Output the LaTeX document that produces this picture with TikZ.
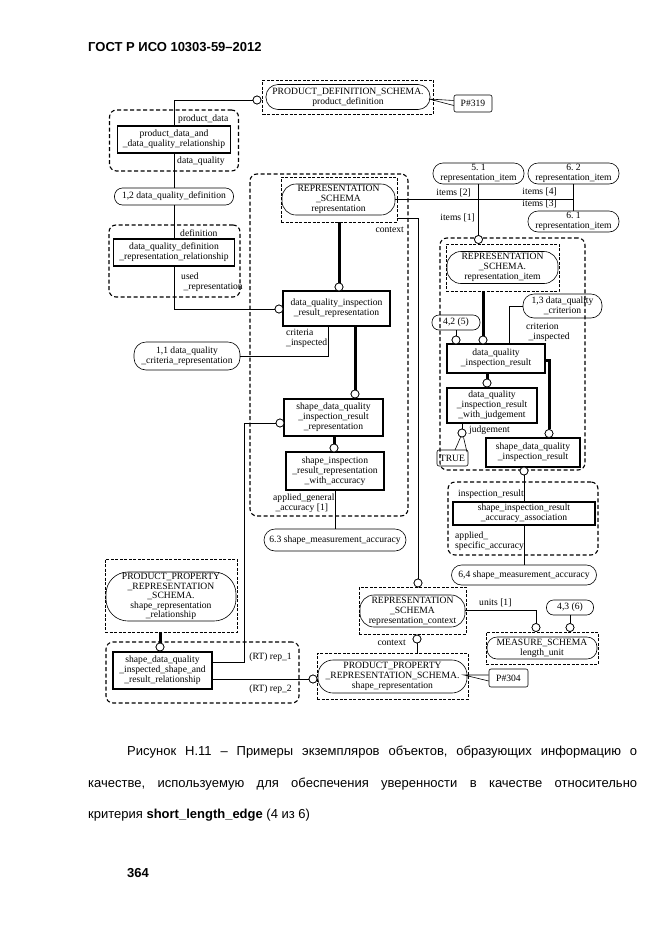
\documentclass[tikz,border=0pt]{standalone}
\usepackage{fontspec}
\setmainfont{Liberation Serif}
\newfontfamily\capfont{Liberation Sans}
\newcommand\dgfont{\fontsize{9.6}{10}\selectfont}
\frenchspacing
\begin{document}
\begin{tikzpicture}[x=1pt,y=-1pt,
  every node/.style={font=\dgfont, inner sep=0pt, align=center},
  dgrp/.style={draw, dash pattern=on 4pt off 2.5pt, line width=1.1pt, rounded corners=7pt},
  dsch/.style={draw, dash pattern=on 3pt off 1.5pt, line width=0.9pt},
  tref/.style={draw, line width=0.6pt, rounded corners=#1},
  tref/.default=8pt,
  ent/.style={draw, line width=1.1pt},
  call/.style={draw, line width=0.6pt, rounded corners=2pt},
  oc/.style={circle, draw, fill=white, line width=0.7pt, minimum size=8pt},
  thk/.style={line width=3pt},
  conn/.style={line width=0.8pt},
  lab/.style={font=\dgfont, align=left},
  capt/.style={font=\capfont\fontsize{13}{15}\selectfont, anchor=base west}
]
\fill[white] (0,0) rectangle (661,935);
\useasboundingbox (0,0) rectangle (661,935);

% header
\node[font=\capfont\bfseries\fontsize{13}{15}\selectfont, anchor=base west] (hdr) at (88,51) {ГОСТ Р ИСО 10303-59–2012};

% ---------- top: product definition ----------
\node[dsch, minimum width=171, minimum height=34] (pdsG) at (348,97) {};
\node[tref=12pt, minimum width=164, minimum height=25] (pds) at (348,97) {PRODUCT\_DEFINITION\_SCHEMA.\\product\_definition};
\node[call, minimum width=38, minimum height=17] (p319) at (473,103.5) {P\#319};
\coordinate (p319t) at (429,99);
\draw[line width=0.6pt] ([yshift=3pt]p319.west) -- (p319t) -- ([yshift=-2pt]p319.west);

% group 1
\node[dgrp, minimum width=129, minimum height=61] (g1) at (174,140.5) {};
\node[ent, minimum width=113, minimum height=27] (pdqr) at (174,139.5) {product\_data\_and\\\_data\_quality\_relationship};
\node[lab, anchor=west] (l1) at (178,119) {product\_data};
\node[lab, anchor=west] (l2) at (177,161) {data\_quality};

\node[tref=8pt, minimum width=119, minimum height=17] (dqd) at (174,196.5) {1,2 data\_quality\_definition};

% group 2
\node[dgrp, minimum width=131, minimum height=72] (g2) at (174.5,261) {};
\node[ent, minimum width=121, minimum height=27] (dqdrr) at (174,252.5) {data\_quality\_definition\\\_representation\_relationship};
\node[lab, anchor=west] (l3) at (180,233) {definition};
\node[lab, anchor=west] (l4) at (181,282) {used\\\ \_representation};

% ---------- representation group ----------
\node[dgrp, minimum width=158, minimum height=342] (g3) at (329,345) {};
\node[dsch, minimum width=116, minimum height=45] (repG) at (339,199.5) {};
\node[tref=14pt, minimum width=113, minimum height=31] (rep) at (338.5,199.5) {REPRESENTATION\\\_SCHEMA\\representation};
\node[lab, anchor=east] (l5) at (404,230) {context};

\node[ent, minimum width=107, minimum height=35] (dqirr) at (336.5,308.5) {data\_quality\_inspection\\\_result\_representation};
\node[lab, anchor=west] (l6) at (286,338) {criteria\\\_inspected};
\node[tref=12pt, minimum width=106, minimum height=28] (dqcr) at (187,356) {1,1 data\_quality\\\_criteria\_representation};

\node[ent, minimum width=99, minimum height=37] (sdqirr) at (333.5,417.5) {shape\_data\_quality\\\_inspection\_result\\\_representation};
\node[ent, minimum width=98, minimum height=38] (sirrwa) at (335,471) {shape\_inspection\\\_result\_representation\\\_with\_accuracy};
\node[lab, anchor=west] (l7) at (273,503.5) {applied\_general\\\ \_accuracy [1]};
\node[tref=11pt, minimum width=142, minimum height=22] (sma63) at (335,540) {6.3 shape\_measurement\_accuracy};

% ---------- top right items ----------
\node[tref=10pt, minimum width=91, minimum height=21] (n51) at (478.5,173.5) {5. 1\\representation\_item};
\node[tref=10pt, minimum width=91, minimum height=21] (n62) at (573.5,173.5) {6. 2\\representation\_item};
\node[tref=10pt, minimum width=91, minimum height=21] (n61) at (573.5,221.5) {6. 1\\representation\_item};
\node[lab, anchor=east] (l8) at (471,193) {items [2]};
\node[lab, anchor=east] (l9) at (557,192) {items [4]};
\node[lab, anchor=east] (l10) at (557,204) {items [3]};
\node[lab, anchor=east] (l11) at (475,218) {items [1]};

% ---------- right group ----------
\node[dgrp, minimum width=145, minimum height=232] (g4) at (512.5,354) {};
\node[dsch, minimum width=113, minimum height=47] (riG) at (502.5,267.5) {};
\node[tref=14pt, minimum width=111, minimum height=32] (ri) at (502.5,267.5) {REPRESENTATION\\\_SCHEMA.\\representation\_item};
\node[tref=7pt, minimum width=48, minimum height=15] (n42) at (456,322.5) {4,2 (5)};
\node[tref=11pt, minimum width=79, minimum height=24] (n13) at (562.5,306) {1,3 data\_quality\\\_criterion};
\node[lab, anchor=west] (l12) at (526,332) {criterion\\\ \_inspected};
\node[ent, minimum width=98, minimum height=29] (dqir) at (496,358.5) {data\_quality\\\_inspection\_result};
\node[ent, minimum width=90, minimum height=35] (dqirwj) at (492,405.5) {data\_quality\\\_inspection\_result\\\_with\_judgement};
\node[ent, minimum width=94, minimum height=29] (sdqir) at (533,452.5) {shape\_data\_quality\\\_inspection\_result};
\node[lab, anchor=west] (l13) at (469,430) {judgement};
\node[call, minimum width=31, minimum height=16] (tru) at (452.5,458) {TRUE};

% group 5
\node[dgrp, minimum width=150, minimum height=73] (g5) at (523,518.5) {};
\node[ent, minimum width=142, minimum height=23] (sirraa) at (524,513.5) {shape\_inspection\_result\\\_accuracy\_association};
\node[lab, anchor=west] (l14) at (458,494) {inspection\_result};
\node[lab, anchor=west] (l15) at (455,541) {applied\_\\specific\_accuracy};
\node[tref=10pt, minimum width=145, minimum height=20] (n64) at (524,575) {6,4 shape\_measurement\_accuracy};

% ---------- representation context ----------
\node[dsch, minimum width=107, minimum height=47] (rcG) at (412.5,610.5) {};
\node[tref=14pt, minimum width=105, minimum height=32] (rc) at (412.5,611) {REPRESENTATION\\\_SCHEMA\\representation\_context};
\node[lab, anchor=west] (l16) at (479,603) {units [1]};
\node[tref=7pt, minimum width=47, minimum height=15] (n43) at (570,607.5) {4,3 (6)};
\node[dsch, minimum width=112, minimum height=32] (msG) at (542,648) {};
\node[tref=10pt, minimum width=110, minimum height=22] (ms) at (542,648) {MEASURE\_SCHEMA\\length\_unit};
\node[lab, anchor=east] (l17) at (406,643) {context};

\node[dsch, minimum width=151, minimum height=46] (prG) at (392.5,676) {};
\node[tref=15pt, minimum width=149, minimum height=33] (pr) at (392.5,676.5) {PRODUCT\_PROPERTY\\\_REPRESENTATION\_SCHEMA.\\shape\_representation};
\node[call, minimum width=39, minimum height=18] (p304) at (508.5,678) {P\#304};
\coordinate (p304t) at (464,675);
\draw[line width=0.6pt] ([yshift=3pt]p304.west) -- (p304t) -- ([yshift=-3pt]p304.west);

% ---------- bottom left ----------
\node[dsch, minimum width=132, minimum height=73] (prrG) at (171,595.5) {};
\node[tref=22pt, minimum width=130, minimum height=49, font=\fontsize{9.6}{9.6}\selectfont] (prr) at (171,596.5) {PRODUCT\_PROPERTY\\\_REPRESENTATION\\\_SCHEMA.\\shape\_representation\\\_relationship};
\node[dgrp, minimum width=193, minimum height=61] (g6) at (202.5,672.5) {};
\node[ent, minimum width=99, minimum height=37] (sdq) at (162.5,670.5) {shape\_data\_quality\\\_inspected\_shape\_and\\\_result\_relationship};
\node[lab, anchor=east] (l18) at (292,657) {(RT) rep\_1};
\node[lab, anchor=east] (l19) at (292,689) {(RT) rep\_2};

% ---------- circles ----------
\node[oc] (c1) at (257,100) {};
\node[oc] (c2) at (279,309) {};
\node[oc] (c3) at (339,287) {};
\node[oc] (c4) at (355,394) {};
\node[oc] (c5) at (280,423) {};
\node[oc] (c6) at (334,448) {};
\node[oc] (c7) at (478.5,239.5) {};
\node[oc] (c8) at (418,583) {};
\node[oc] (c9) at (483,340) {};
\node[oc] (c10) at (456,340) {};
\node[oc] (c11) at (487,383) {};
\node[oc] (c12) at (549,433.5) {};
\node[oc] (c13) at (462,433) {};
\node[oc] (c14) at (524,471) {};
\node[oc] (c15) at (536,627.5) {};
\node[oc] (c16) at (570,627.5) {};
\node[oc] (c17) at (417,639) {};
\node[oc] (c18) at (313,679) {};
\node[oc] (c19) at (160,647) {};

% ---------- connectors ----------
\draw[conn] (c1.west) -| (pdqr.north);
\draw[conn] (pdqr.south) -- (dqd.north);
\draw[conn] (dqd.south) -- (dqdrr.north);
\draw[conn] (dqdrr.south) |- (c2.west);
\draw[thk] (repG.south -| c3) -- (c3.north);
\coordinate (k1) at (328,356);
\draw[conn] (dqirr.south -| k1) -- (k1) -- (dqcr.east);
\draw[thk] (dqirr.south -| c4) -- (c4.north);
\draw[thk] (sdqirr.south -| c6) -- (c6.north);
\draw[conn] (sirrwa.south) -- (sma63.north);
\draw[conn] (rep.east) -- (rep.east -| n62.south);
\draw[conn] (n62.south) -- (n61.north);
\draw[conn] (n51.south) -- (c7.north);
\coordinate (k2) at (418,218);
\draw[conn] (repG.east |- k2) -- (k2) -- (c8.north);
\draw[thk] (riG.south -| c9) -- (c9.north);
\draw[conn] (n42.south -| c10) -- (c10.north);
\coordinate (k3) at (509,306);
\draw[conn] (n13.west) -- (k3) -- (k3 |- dqir.north);
\draw[thk] (dqir.south -| c11) -- (c11.north);
\coordinate (k4) at (549,360);
\draw[thk] (dqir.east |- k4) -- (k4) -- (c12.north);
\draw[conn] (dqirwj.south -| c13) -- (c13.north);
\coordinate (t1) at (455,450);
\coordinate (t2) at (467,452);
\draw[line width=0.6pt] ([xshift=-1.5pt]c13.south) -- (t1);
\draw[line width=0.6pt] ([xshift=1.5pt]c13.south) -- (t2);
\draw[conn] (c14.south) -- (sirraa.north);
\draw[conn] (sirraa.south) -- (n64.north);
\coordinate (k5) at (536,610);
\draw[conn] (rc.east |- k5) -- (k5) -- (c15.north);
\draw[conn] (n43.south -| c16) -- (c16.north);
\draw[conn] (c17.south) -- (c17.south |- prG.north);
\draw[thk] (prrG.south -| c19) -- (c19.north);
\coordinate (k6) at (244,662);
\draw[conn] (sdq.east |- k6) -- (k6) |- (c5.west);
\draw[conn] (sdq.east |- c18) -- (c18.west);

% redraw circles on top
\foreach \c in {c1,c2,c3,c4,c5,c6,c7,c8,c9,c10,c11,c12,c13,c14,c15,c16,c17,c18,c19}
  \draw[fill=white, line width=0.7pt] (\c) circle (4pt);

% ---------- caption ----------
\node[capt] (cap1) at (127,755) {\makebox[510pt][s]{Рисунок Н.11 – Примеры экземпляров объектов, образующих информацию о}};
\node[capt] (cap2) at (88,787) {\makebox[549pt][s]{качестве, используемую для обеспечения уверенности в качестве относительно}};
\node[capt] (cap3) at (88,818) {критерия \textbf{short\_length\_edge} (4 из 6)};
\node[font=\capfont\bfseries\fontsize{13}{15}\selectfont, anchor=base west] (pgno) at (127,877) {364};
\end{tikzpicture}
\end{document}
